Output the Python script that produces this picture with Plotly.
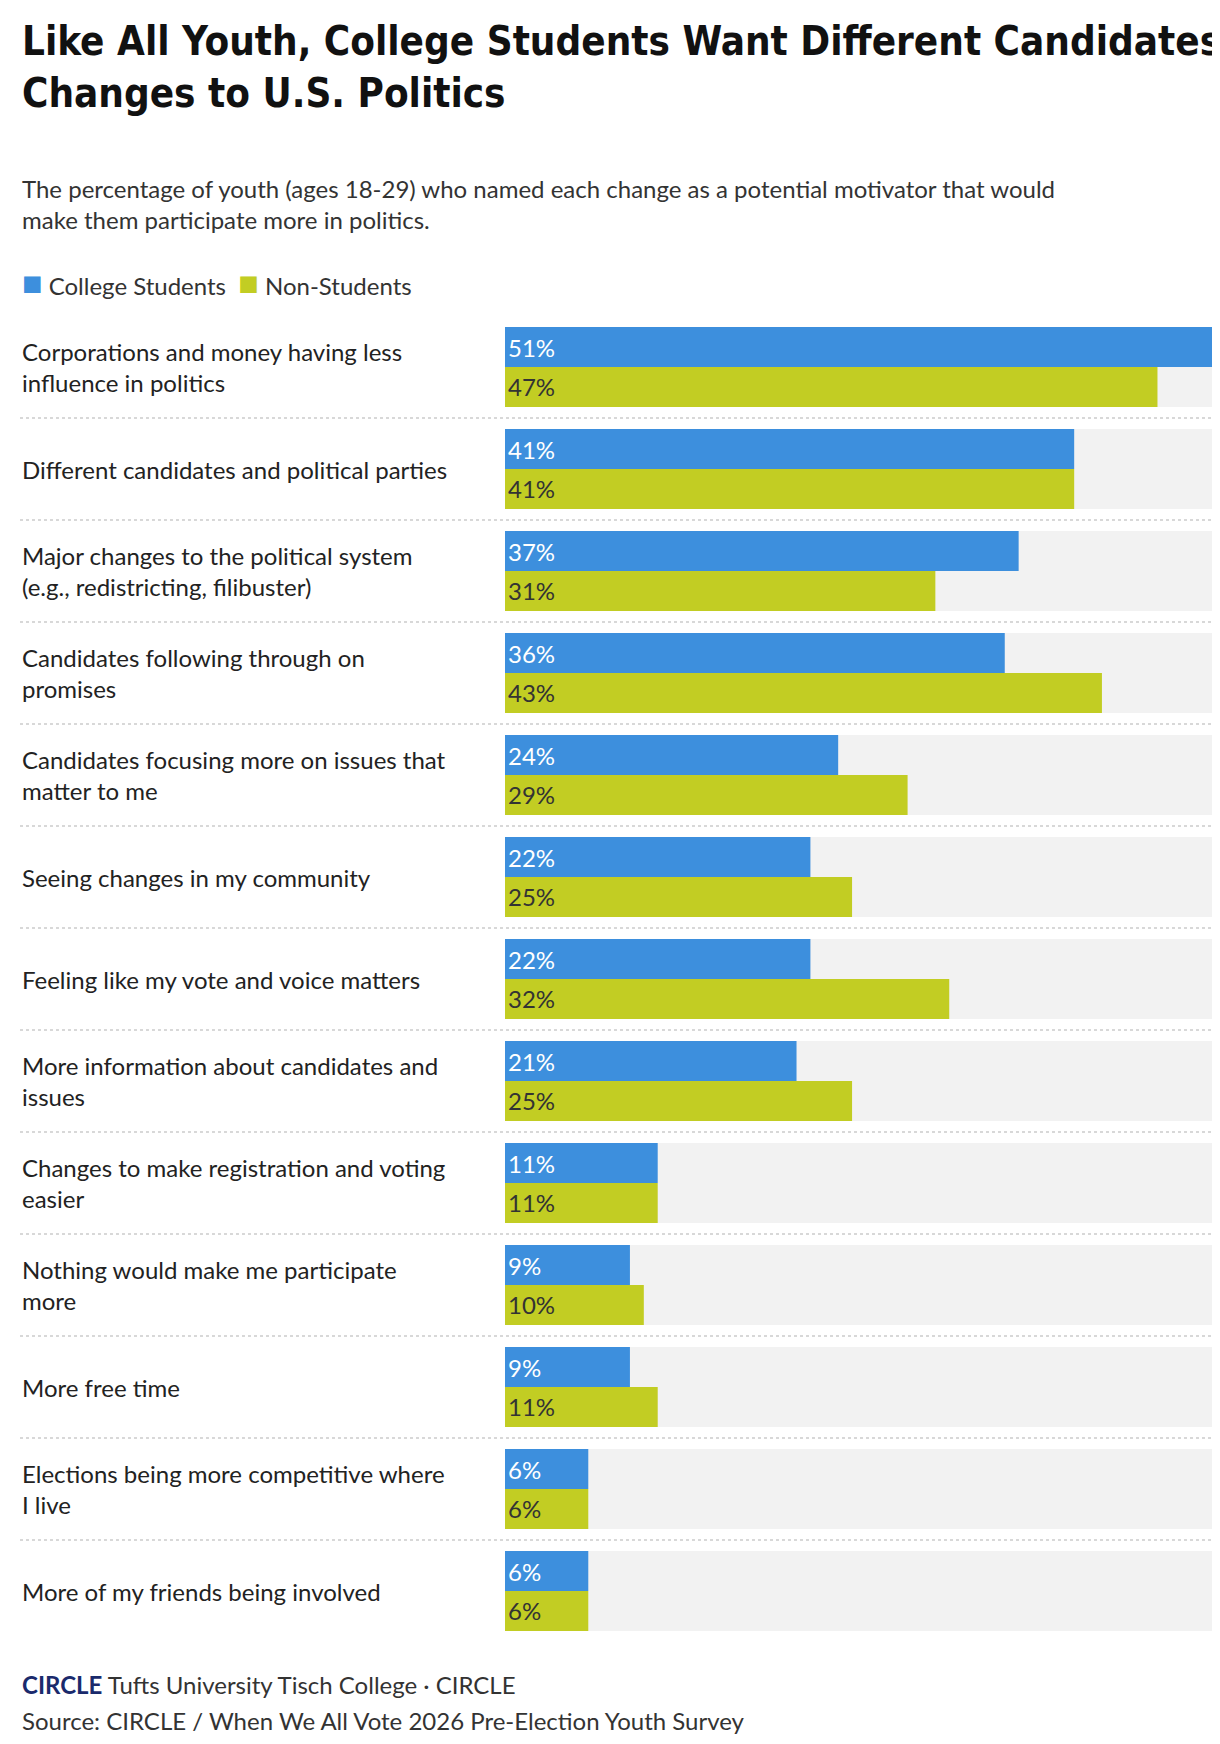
import plotly.graph_objects as go

categories = [
    "Corporations and money having less<br>influence in politics",
    "Different candidates and political parties",
    "Major changes to the political system<br>(e.g., redistricting, filibuster)",
    "Candidates following through on<br>promises",
    "Candidates focusing more on issues that<br>matter to me",
    "Seeing changes in my community",
    "Feeling like my vote and voice matters",
    "More information about candidates and<br>issues",
    "Changes to make registration and voting<br>easier",
    "Nothing would make me participate<br>more",
    "More free time",
    "Elections being more competitive where<br>I live",
    "More of my friends being involved",
]
college = [51, 41, 37, 36, 24, 22, 22, 21, 11, 9, 9, 6, 6]
non_students = [47, 41, 31, 43, 29, 25, 32, 25, 11, 10, 11, 6, 6]

BLUE = "#3d8fdd"
GREEN = "#c2cd23"
FONT = "Lato"
n = len(categories)
rows = list(range(n))

fig = go.Figure()
fig.add_trace(go.Bar(y=rows, x=[51] * n, orientation="h", width=0.784,
                     marker=dict(color="#f2f2f2", line_width=0), hoverinfo="skip"))
fig.add_trace(go.Bar(y=[r - 0.196 for r in rows], x=college, orientation="h", width=0.392,
                     marker=dict(color=BLUE, line_width=0),
                     text=[f"{v}%" for v in college], textposition="inside",
                     insidetextanchor="start", textfont=dict(color="white", size=24, family=FONT),
                     name="College Students"))
fig.add_trace(go.Bar(y=[r + 0.196 for r in rows], x=non_students, orientation="h", width=0.392,
                     marker=dict(color=GREEN, line_width=0),
                     text=[f"{v}%" for v in non_students], textposition="inside",
                     insidetextanchor="start", textfont=dict(color="#333333", size=24, family=FONT),
                     name="Non-Students"))

lx = (12 - 497) / 708
annotations = []
shapes = []
for i, c in enumerate(categories):
    annotations.append(dict(x=lx, y=i, xref="paper", yref="y", text=c, showarrow=False,
                            xanchor="left", align="left",
                            font=dict(size=24, color="#222", family=FONT)))
    if i < n - 1:
        shapes.append(dict(type="line", xref="paper", yref="y", x0=lx, x1=1, y0=i + 0.5, y1=i + 0.5,
                           line=dict(color="#cccccc", width=1.5, dash="dot")))

# title, subtitle, legend, footer
annotations += [
    dict(x=lx, y=1.0, xref="paper", yref="paper", yshift=300, xanchor="left", yanchor="top",
         align="left", showarrow=False,
         text="<b>Like All Youth, College Students Want Different Candidates and Major<br>Changes to U.S. Politics</b>",
         font=dict(size=40, family="DejaVu Sans Condensed, Liberation Sans Narrow, Roboto", color="#111")),
    dict(x=lx, y=1.0, xref="paper", yref="paper", yshift=144, xanchor="left", yanchor="top",
         align="left", showarrow=False,
         text="The percentage of youth (ages 18-29) who named each change as a potential motivator that would<br>make them participate more in politics.",
         font=dict(size=24, family=FONT, color="#333")),
    dict(x=lx, y=1.0, xref="paper", yref="paper", yshift=35, xanchor="left", yanchor="middle",
         showarrow=False,
         text=f"<span style='color:{BLUE};font-size:34px'>■</span> College Students  <span style='color:{GREEN};font-size:34px'>■</span> Non-Students",
         font=dict(size=24, family=FONT, color="#333")),
    dict(x=lx, y=0, xref="paper", yref="paper", yshift=-42, xanchor="left", yanchor="middle",
         showarrow=False,
         text="<b><span style='color:#1a2a6c'>CIRCLE</span></b> Tufts University Tisch College · CIRCLE",
         font=dict(size=24, family=FONT, color="#333")),
    dict(x=lx, y=0, xref="paper", yref="paper", yshift=-78, xanchor="left", yanchor="middle",
         showarrow=False,
         text="Source: CIRCLE / When We All Vote 2026 Pre-Election Youth Survey",
         font=dict(size=24, family=FONT, color="#333")),
]

fig.update_layout(
    width=1220, height=1744, barmode="overlay", showlegend=False,
    paper_bgcolor="white", plot_bgcolor="white",
    margin=dict(l=497, r=15, t=308, b=110),
    xaxis=dict(range=[0, 51], visible=False, fixedrange=True),
    yaxis=dict(range=[n - 0.5, -0.5], visible=False),
    annotations=annotations, shapes=shapes, uniformtext=dict(minsize=18, mode="show"),
)
fig.write_html("out.html")
